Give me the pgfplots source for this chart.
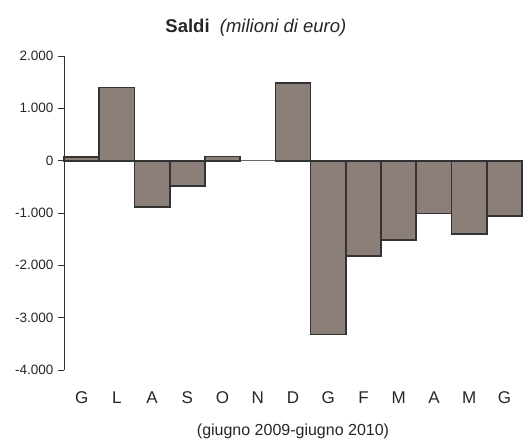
\documentclass[border=0pt]{standalone}
\usepackage{pgfplots}
\pgfplotsset{compat=1.18}
\usepackage{fontspec}
\setmainfont{Liberation Sans}
\definecolor{barfill}{HTML}{8C7F7A}
\definecolor{baredge}{HTML}{333333}
\begin{document}
\begin{tikzpicture}
\begin{axis}[
  scale only axis,
  clip=false,
  width=458bp, height=314bp,
  ybar, bar width=1, bar shift=0pt,
  xmin=-0.5, xmax=12.5,
  ymin=-4000, ymax=2000,
  ytick={-4000,-3000,...,2000},
  axis lines=left,
  x axis line style={draw=none},
  y axis line style={draw=black!80, line width=0.8bp, -},
  xtick={0,...,12},
  xticklabels={G,L,A,S,O,N,D,G,F,M,A,M,G},
  xtick style={draw=none},
  ytick style={draw=black!80, line width=0.8bp},
  tick align=outside,
  major tick length=6bp,
  yticklabel style={font=\fontsize{13.5bp}{15bp}\selectfont, text=black!85, xshift=-1bp},
  xticklabel style={font=\fontsize{17bp}{19bp}\selectfont, text=black!85, yshift=-12bp},
  /pgf/number format/.cd, 1000 sep={.}, assume math mode=true,
]
\draw[black!60, line width=0.6bp] (axis cs:-0.5,0) -- (axis cs:12.5,0);
\addplot[fill=barfill, draw=baredge, line width=1.7bp] coordinates {
 (0,70) (1,1400) (2,-890) (3,-490) (4,80) (6,1480) (7,-3320) (8,-1815) (9,-1510) (10,-1012) (11,-1397) (12,-1055)
};
\node[font=\fontsize{18.5bp}{20bp}\selectfont, text=black!85] at (rel axis cs:0.419,1.09) {\textbf{Saldi} \ \textit{(milioni di euro)}};
\node[font=\fontsize{16bp}{18bp}\selectfont, text=black!85] at (rel axis cs:0.5,-0.194) {(giugno 2009-giugno 2010)};
\end{axis}
\pgfresetboundingbox
\path (current axis.south west) ++(-64bp,-71bp) rectangle ++(525bp,441bp);
\end{tikzpicture}
\end{document}
